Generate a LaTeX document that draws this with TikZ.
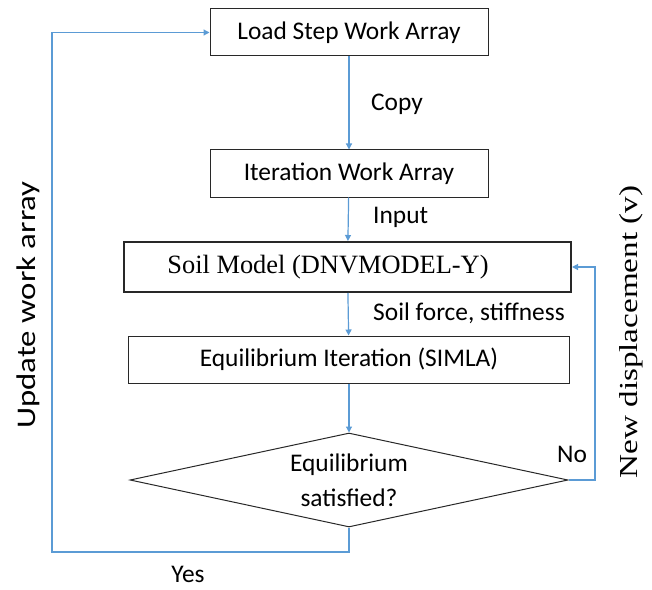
\documentclass[tikz,border=0pt]{standalone}
\usepackage{fontspec}
\setmainfont{Carlito}
\newfontfamily\serifx{Liberation Serif}
\usetikzlibrary{arrows.meta,shapes.geometric}
\definecolor{lineblue}{RGB}{91,155,213}
\definecolor{boxgray}{RGB}{40,40,40}
\tikzset{
  procbox/.style={draw=boxgray,line width=1bp,minimum width=278bp,minimum height=47bp,inner sep=0pt,font=\fontsize{25.5}{28}\selectfont},
  conn/.style={draw=lineblue,line width=1.2bp,-{Triangle[length=6bp,width=6bp]}},
  lbl/.style={font=\fontsize{25.5}{28}\selectfont,inner sep=0pt},
}
\begin{document}
\begin{tikzpicture}[x=1bp,y=-1bp]
\useasboundingbox (0,0) rectangle (652,590);
\node[procbox] (load) at (349,32.5) {Load Step Work Array};
\node[procbox] (iter) at (349,173.5) {Iteration Work Array};
\node[procbox,line width=2bp,minimum width=447bp,minimum height=50bp,font=\serifx\fontsize{26.5}{30}\selectfont] (soil) at (347.5,267) {Soil Model (DNVMODEL-Y)\hspace*{39bp}};
\node[procbox,minimum width=440bp] (eq) at (349,359.5) {Equilibrium Iteration (SIMLA)};
\node[diamond,draw=boxgray,line width=1bp,minimum width=438bp,minimum height=94bp,aspect=4.66,inner sep=0pt,align=center,font=\fontsize{25.5}{35}\selectfont] (dec) at (349,480) {Equilibrium\\satisfied?};
\coordinate (yl) at (349,552);
\coordinate (yc) at (52,552);
\coordinate (yt) at (52,32.5);
\coordinate (nr) at (595,480);
\coordinate (nt) at (595,267);
\draw[conn] (load) -- (iter);
\draw[conn] (iter) -- (soil);
\draw[conn] (soil) -- (eq);
\draw[conn] (eq) -- (dec.north);
\draw[conn] (dec.south) -- (yl) -- (yc) -- (yt) -- (load.west);
\draw[conn] (dec.east) -- (nr) -- (nt) -- (soil.east);
\node[lbl,anchor=west] (copy) at (371,104) {Copy};
\node[lbl,anchor=west] (input) at (373,217) {Input};
\node[lbl,anchor=west] (sf) at (373,313) {Soil force, stiffness};
\node[lbl,anchor=west] (no) at (557,454) {No};
\node[lbl,anchor=base] (yes) at (188,582) {Yes};
\node[lbl,rotate=90,font=\fontsize{27}{30}\selectfont] (upd) at (28,305) {\scalebox{1.22}[1]{Update work array}};
\node[lbl,rotate=90,font=\serifx\fontsize{26}{30}\selectfont] (newd) at (631,332) {\scalebox{1.28}[1]{New displacement (v)}};
\end{tikzpicture}
\end{document}
